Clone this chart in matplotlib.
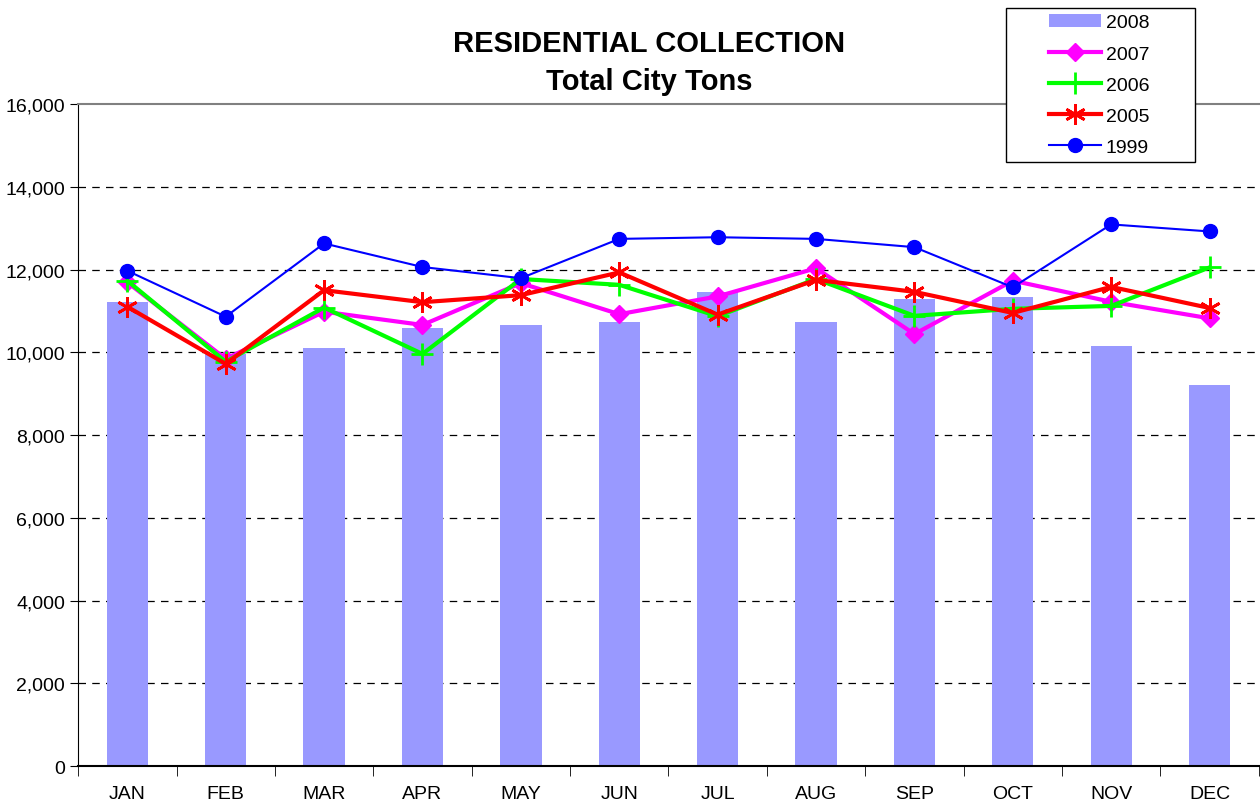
import numpy as np
import matplotlib
matplotlib.use('Agg')
import matplotlib.pyplot as plt
from matplotlib.patches import Rectangle

plt.rcParams['font.family'] = ['Liberation Sans', 'DejaVu Sans']

### data
months = ['JAN', 'FEB', 'MAR', 'APR', 'MAY', 'JUN', 'JUL', 'AUG', 'SEP', 'OCT', 'NOV', 'DEC']
tons_2008 = [11210, 9960, 10110, 10580, 10670, 10730, 11450, 10740, 11280, 11340, 10140, 9220]
tons_2007 = [11690, 9840, 10980, 10660, 11670, 10920, 11350, 12030, 10440, 11730, 11220, 10820]
tons_2006 = [11730, 9770, 11080, 9960, 11770, 11630, 10870, 11770, 10880, 11050, 11120, 12050]
tons_2005 = [11100, 9720, 11500, 11210, 11380, 11930, 10910, 11750, 11460, 10950, 11580, 11070]
tons_1999 = [11970, 10860, 12630, 12060, 11790, 12740, 12780, 12740, 12540, 11570, 13090, 12920]

x = np.arange(len(months))

fig = plt.figure(figsize=(12.6, 8.04), dpi=100)
ax = fig.add_axes([0.062, 0.046, 0.937, 0.8234])

b08 = ax.bar(x, tons_2008, width=0.42, color='#9999FF', label='2008', zorder=2)
l07, = ax.plot(x, tons_2007, c='#FF00FF', lw=3, marker='D', ms=9, label='2007', zorder=3)
l06, = ax.plot(x, tons_2006, c='#00FF00', lw=3, marker='+', ms=16, mew=2, label='2006', zorder=4)
l05, = ax.plot(x, tons_2005, c='#FF0000', lw=3, marker=(6, 2, 0), ms=15, mew=2, label='2005', zorder=5)
l99, = ax.plot(x, tons_1999, c='#0000FF', lw=1.5, marker='o', ms=10, label='1999', zorder=6)

ax.set_xlim(-0.5, len(months) - 0.5)
ax.set_ylim(0, 16000)
ax.set_yticks(np.arange(0, 16001, 2000))
ax.set_yticklabels([f'{v:,}' for v in range(0, 16001, 2000)], fontsize=14)
ax.set_xticks(x)
ax.set_xticklabels(months, fontsize=14)
ax.tick_params(axis='x', length=0, pad=14)
ax.set_xticks(np.arange(-0.5, len(months), 1), minor=True)
ax.tick_params(axis='x', which='minor', length=7, direction='out', color='black')
ax.tick_params(axis='y', length=6, direction='out', color='black')

for y in range(2000, 16000, 2000):
    ax.axhline(y, color='black', lw=0.9, ls=(0, (6, 5)), zorder=1)

ax.spines['top'].set_color('gray')
ax.spines['top'].set_linewidth(1.5)
ax.spines['right'].set_visible(False)
ax.spines['left'].set_color('black')
ax.spines['bottom'].set_color('black')
ax.spines['bottom'].set_linewidth(1.5)

fig.text(0.515, 0.945, 'RESIDENTIAL COLLECTION', ha='center', va='center', fontsize=21, fontweight='bold')
fig.text(0.515, 0.898, 'Total City Tons', ha='center', va='center', fontsize=21, fontweight='bold')

# legend box drawn separately, legend itself centred inside it
box = Rectangle((1006 / 1260, 1 - 163 / 804), 189 / 1260, 154 / 804, transform=fig.transFigure,
                facecolor='white', edgecolor='black', lw=1.0, zorder=9)
fig.patches.append(box)
leg = fig.legend([b08, l07, l06, l05, l99], ['2008', '2007', '2006', '2005', '1999'],
                 loc='center', bbox_to_anchor=(1099 / 1260, 1 - 86 / 804), fontsize=14,
                 frameon=False, handlelength=2.7, labelspacing=0.7, handletextpad=0.25)
leg.set_zorder(10)

plt.savefig('out.png', dpi=100)
plt.close()
